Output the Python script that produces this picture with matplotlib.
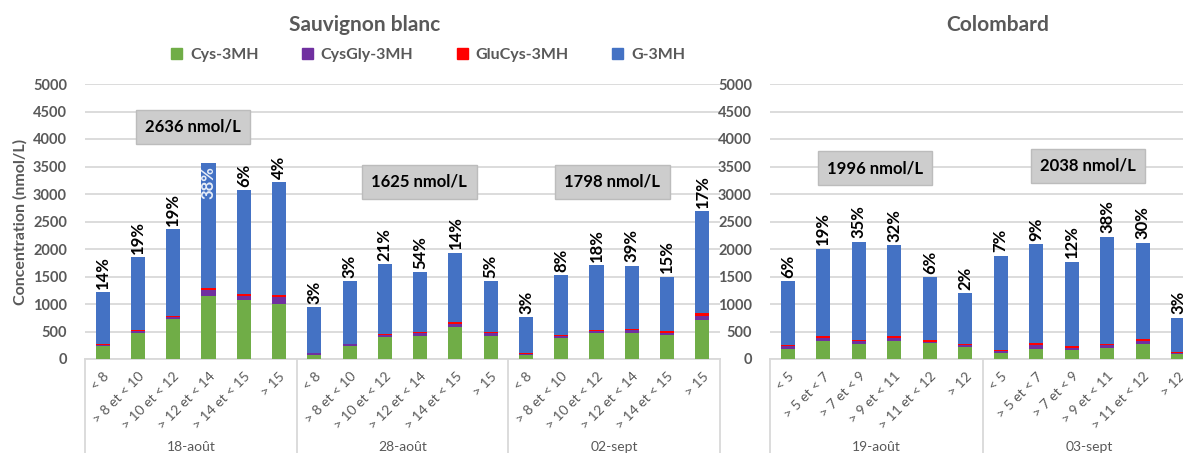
import matplotlib
matplotlib.use("Agg")
import matplotlib.pyplot as plt
import matplotlib.transforms as mtransforms
import numpy as np

plt.rcParams['font.family'] = ['Lato', 'DejaVu Sans']

# Sauvignon blanc: three sampling dates, six classes each
sb_dates = ['18-août', '28-août', '02-sept']
sb_classes = ['< 8', '> 8 et < 10', '> 10 et < 12', '> 12 et < 14', '> 14 et < 15', '> 15']
sb_cys = [240, 470, 720, 1140, 1067, 1006,
          67, 238, 396, 418, 588, 418,
          73, 382, 467, 467, 430, 709]
sb_cysgly = [20, 40, 40, 110, 85, 115,
             35, 30, 40, 48, 48, 48,
             18, 42, 48, 55, 36, 79]
sb_glucys = [15, 10, 30, 35, 30, 35,
             10, 12, 12, 18, 42, 24,
             18, 12, 18, 18, 36, 42]
sb_g = [945, 1328, 1576, 2273, 1891, 2056,
        833, 1141, 1272, 1092, 1255, 922,
        649, 1091, 1176, 1157, 995, 1861]
sb_pct = [14, 19, 19, 38, 6, 4,
          3, 3, 21, 54, 14, 5,
          3, 8, 18, 39, 15, 17]
sb_totals = ['2636 nmol/L', '1625 nmol/L', '1798 nmol/L']

# Colombard: two sampling dates, six classes each
co_dates = ['19-août', '03-sept']
co_classes = ['< 5', '> 5 et < 7', '> 7 et < 9', '> 9 et < 11', '> 11 et < 12', '> 12']
co_cys = [176, 328, 267, 334, 285, 224,
          103, 188, 158, 206, 279, 97]
co_cysgly = [60, 60, 67, 48, 30, 24,
             42, 73, 48, 42, 42, 18]
co_glucys = [18, 30, 18, 30, 36, 24,
             24, 24, 24, 30, 42, 18]
co_g = [1160, 1590, 1784, 1657, 1136, 929,
        1712, 1808, 1542, 1949, 1755, 619]
co_pct = [6, 19, 35, 32, 6, 2,
          7, 9, 12, 38, 30, 3]
co_totals = ['1996 nmol/L', '2038 nmol/L']

series_names = ['Cys-3MH', 'CysGly-3MH', 'GluCys-3MH', 'G-3MH']
colors = ['#70ad47', '#7030a0', '#ff0000', '#4472c4']
gray = '#595959'
grid = '#d9d9d9'

W, H = 1183, 453
fig = plt.figure(figsize=(W / 100, H / 100), dpi=100)


def px_axes(x0, x1, y0=84, y1=359):
    return fig.add_axes([x0 / W, 1 - y1 / H, (x1 - x0) / W, (y1 - y0) / H])


def draw_panel(ax, dates, classes, stacks, pcts, totals, total_pos, inside=()):
    n = len(stacks[0])
    x = np.arange(n)
    bottom = np.zeros(n)
    for vals, c in zip(stacks, colors):
        ax.bar(x, vals, 0.4, bottom=bottom, color=c, zorder=3)
        bottom += np.array(vals)

    for i in range(n):
        if i in inside:
            ax.text(x[i], bottom[i] - 60, f'{pcts[i]}%', rotation=90, ha='center',
                    va='top', fontsize=12, fontweight='bold', color='#e8eef8', zorder=4)
        else:
            ax.text(x[i], bottom[i] + 60, f'{pcts[i]}%', rotation=90, ha='center',
                    va='bottom', fontsize=12, fontweight='bold', color='black', zorder=4)

    ax.set_xlim(-0.5, n - 0.5)
    ax.set_ylim(0, 5000)
    ax.set_yticks(np.arange(0, 5001, 500))
    ax.yaxis.grid(True, color=grid, linewidth=1.3, zorder=0)
    ax.set_axisbelow(True)
    for s in ['top', 'right', 'left']:
        ax.spines[s].set_visible(False)
    ax.spines['bottom'].set_color(grid)
    ax.spines['bottom'].set_linewidth(1.3)
    ax.tick_params(axis='y', length=0, labelsize=10.5, labelcolor=gray, pad=13)
    for lab in ax.get_yticklabels():
        lab.set_fontweight('bold')

    ax.set_xticks(x)
    ax.set_xticklabels(classes * len(dates), rotation=45, ha='right',
                       rotation_mode='anchor', fontsize=10, color=gray)
    ax.tick_params(axis='x', length=0, pad=8)

    # Group separators and date labels below the category axis
    trans = mtransforms.blended_transform_factory(ax.transData, ax.transAxes)
    k = len(classes)
    for g in range(len(dates) + 1):
        ax.plot([g * k - 0.5, g * k - 0.5], [0, -0.4], color=grid, lw=1.3,
                transform=trans, clip_on=False)
    for g, d in enumerate(dates):
        ax.text(g * k + (k - 1) / 2, -0.32, d, transform=trans, ha='center',
                va='center', fontsize=10, color=gray)

    for t, (tx, ty) in zip(totals, total_pos):
        ax.text(tx, ty, t, ha='center', va='center', fontsize=12, fontweight='bold',
                color='black', zorder=5,
                bbox=dict(boxstyle='square,pad=0.55', facecolor='#cdcdcd',
                          edgecolor='#bcbcbc', linewidth=1))


ax1 = px_axes(85, 720)
draw_panel(ax1, sb_dates, sb_classes, [sb_cys, sb_cysgly, sb_glucys, sb_g],
           sb_pct, sb_totals, [(2.56, 4220), (8.98, 3220), (14.45, 3220)], inside=(3,))
ax1.set_ylabel('Concentration (nmol/L)', fontsize=11.5, fontweight='bold', color=gray,
               labelpad=4)

ax2 = px_axes(770, 1196)
draw_panel(ax2, co_dates, co_classes, [co_cys, co_cysgly, co_glucys, co_g],
           co_pct, co_totals, [(2.46, 3470), (8.46, 3510)])

fig.text(365 / W, 1 - 25 / H, 'Sauvignon blanc', ha='center', va='center',
         fontsize=15, fontweight='bold', color=gray)
fig.text(998 / W, 1 - 25 / H, 'Colombard', ha='center', va='center',
         fontsize=15, fontweight='bold', color=gray)

handles = [plt.Rectangle((0, 0), 1, 1, color=c) for c in colors]
fig.legend(handles, series_names, loc='center', bbox_to_anchor=(428 / W, 1 - 55 / H),
           ncol=4, frameon=False, handlelength=0.7, handleheight=0.7,
           columnspacing=2.7, handletextpad=0.5, prop={'weight': 'bold', 'size': 11.5},
           labelcolor=gray)

fig.savefig('out.png', dpi=100)
